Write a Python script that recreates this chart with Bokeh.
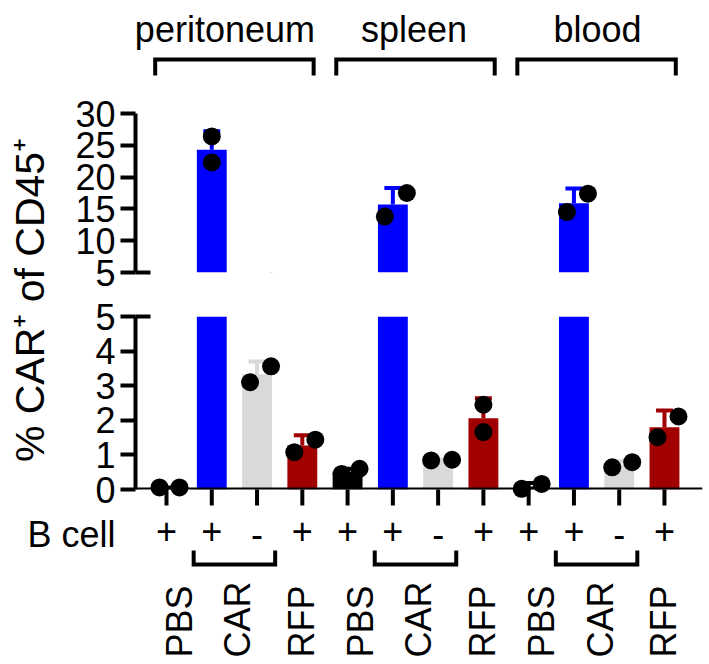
import numpy as np
from bokeh.plotting import figure
from bokeh.layouts import column, row
from bokeh.models import Range1d, FixedTicker, ColumnDataSource, Span
from bokeh.core.properties import value
from bokeh.embed import file_html
from bokeh.resources import INLINE

# ---------------- data ----------------
organs = ["peritoneum", "spleen", "blood"]
treatments = ["PBS", "CAR", "CAR", "RFP"]
b_cell = ["+", "+", "-", "+"]
bar_colors = ["#000000", "#0000FF", "#D9D9D9", "#A00000"]

mean_peritoneum = [0.06, 24.3, 3.33, 1.27]
mean_spleen = [0.52, 15.7, 0.85, 2.06]
mean_blood = [0.09, 15.9, 0.72, 1.80]

sd_peritoneum = [0.00, 2.9, 0.37, 0.30]
sd_spleen = [0.08, 2.6, 0.02, 0.58]
sd_blood = [0.10, 2.3, 0.10, 0.48]

pts1_peritoneum = [0.06, 26.4, 3.10, 1.08]
pts2_peritoneum = [0.06, 22.3, 3.56, 1.44]
pts1_spleen = [0.45, 13.8, 0.84, 2.45]
pts2_spleen = [0.60, 17.5, 0.86, 1.66]
pts1_blood = [0.02, 14.5, 0.64, 1.51]
pts2_blood = [0.16, 17.4, 0.79, 2.11]

top_ticks = [5, 10, 15, 20, 25, 30]
bottom_ticks = [0, 1, 2, 3, 4, 5]
y_label = "% CAR\u207a of CD45\u207a"
row_label = "B cell"

# ---------------- style / layout ----------------
FONT = "Liberation Sans"
FS_TXT = "36px"
XS, XE = 0.315, 12.84
K = 567 / (XE - XS)              # px per category
FS = XS - 135 / K                # full-width figures (frame from page x=0)
FE = FS + 709 / K
PX_BOTTOM = 173 / 5              # px per unit in the lower panel
jit1 = [-7, 0, -7, -8, -6, -8, -7, 0, -7, -7, -7, -7]
jit2 = [13, 0, 14, 13, 12, 14, 14, 0, 13, 14, 13, 14]
BAR_W = 0.66
CAP = 8.5 / K

means = np.array(mean_peritoneum + mean_spleen + mean_blood)
sds = np.array(sd_peritoneum + sd_spleen + sd_blood)
p1 = pts1_peritoneum + pts1_spleen + pts1_blood
p2 = pts2_peritoneum + pts2_spleen + pts2_blood
colors = np.array(bar_colors * len(organs))
pos = np.arange(1, len(means) + 1, dtype=float)
hi = means + sds

pt_src = dict(px=np.concatenate([pos + np.array(jit1) / K, pos + np.array(jit2) / K]),
              py=p1 + p2)


def base(width, height, xr, yr, **kw):
    p = figure(width=width, height=height, x_range=xr, y_range=yr, title=None,
               output_backend="svg", toolbar_location=None, **kw)
    p.xgrid.visible = False
    p.ygrid.visible = False
    p.outline_line_color = None
    p.background_fill_color = "white"
    p.border_fill_color = "white"
    return p


def style_y(ax, ticks):
    ax.ticker = FixedTicker(ticks=ticks)
    ax.axis_line_width = 4
    ax.axis_line_color = "black"
    ax.major_tick_line_width = 4
    ax.major_tick_line_color = "black"
    ax.major_tick_out = 15
    ax.major_tick_in = 0
    ax.minor_tick_line_color = None
    ax.major_label_text_font = FONT
    ax.major_label_text_font_size = FS_TXT
    ax.major_label_text_color = "black"
    ax.major_label_standoff = 5


def draw_panel(p, mask, lift_points):
    src = ColumnDataSource(dict(x=pos[mask], mean=means[mask], hi=hi[mask],
                                cl=pos[mask] - CAP, cr=pos[mask] + CAP,
                                color=colors[mask]))
    p.vbar(x="x", top="mean", bottom=0, width=BAR_W, fill_color="color",
           line_color=None, source=src)
    p.segment(x0="x", y0="mean", x1="x", y1="hi", line_color="color",
              line_width=4, source=src)
    p.segment(x0="cl", y0="hi", x1="cr", y1="hi", line_color="color",
              line_width=4, source=src)
    r = p.scatter(x="px", y="py", size=18, fill_color="black", line_color=None,
                  source=ColumnDataSource(pt_src))
    if lift_points:
        r.level = "overlay"


# top panel (5 - 30)
T = base(649, 204, Range1d(XS, XE), Range1d(top_ticks[0], top_ticks[-1]),
         x_axis_location=None,
         min_border_left=75, min_border_right=7, min_border_top=23, min_border_bottom=22)
style_y(T.yaxis[0], top_ticks)
draw_panel(T, means > top_ticks[0], False)
bt = T.segment(x0=[XS], y0=[top_ticks[0]], x1=[XS + 15 / K], y1=[top_ticks[0]],
               line_width=4, line_color="black")
bt.level = "overlay"

# bottom panel (0 - 5)
B = base(649, 216, Range1d(XS, XE), Range1d(bottom_ticks[0], bottom_ticks[-1]),
         x_axis_location=None,
         min_border_left=75, min_border_right=7, min_border_top=22, min_border_bottom=21)
style_y(B.yaxis[0], bottom_ticks)
draw_panel(B, means > -1, True)
B.add_layout(Span(location=0, dimension="width", line_color="black", line_width=4))
xt = B.segment(x0=pos, y0=np.zeros_like(pos), x1=pos, y1=np.full_like(pos, -16 / PX_BOTTOM),
               line_width=4, line_color="black")
xt.level = "overlay"
bb = B.segment(x0=[XS], y0=[bottom_ticks[-1]], x1=[XS + 15 / K], y1=[bottom_ticks[-1]],
               line_width=4, line_color="black")
bb.level = "overlay"

# y label figure
L = base(60, 420, Range1d(0, 60), Range1d(0, 420), x_axis_location=None,
         y_axis_location=None, min_border=0)
L.text(x=[29.7], y=[210.5], text=[y_label], angle=np.pi / 2, text_align="center",
       text_baseline="middle", text_font=value(FONT), text_font_size="41px",
       text_color="black")

# header with organ names and brackets
H = base(709, 90, Range1d(FS, FE), Range1d(10, 100), x_axis_location=None,
         y_axis_location=None, min_border=0)
gc = [float(np.mean(pos[4 * g:4 * g + 4])) for g in range(len(organs))]
H.text(x=gc, y=[71] * 3, text=organs, x_offset=[-9.5, -1.5, 1], text_align="center",
       text_baseline="alphabetic", text_font=value(FONT), text_font_size=FS_TXT,
       text_color="black")
hx, hy = [], []
for g in range(len(organs)):
    xl = pos[4 * g] - 0.25
    xr = pos[4 * g + 3] + 0.25
    hx.append([xl, xl, xr, xr])
    hy.append([25, 41, 41, 25])
H.multi_line(xs=hx, ys=hy, line_width=4, line_color="black", line_join="miter")

# annotation rows below the axis
A = base(709, 154, Range1d(FS, FE), Range1d(-8, 146), x_axis_location=None,
         y_axis_location=None, min_border=0)
A.text(x=[pos[0]], y=[122], text=[row_label], x_offset=[-51], text_align="right",
       text_baseline="alphabetic", text_font=value(FONT), text_font_size=FS_TXT,
       text_color="black")
signs = b_cell * len(organs)
A.text(x=pos, y=[126 if s == "+" else 123 for s in signs], text=signs, text_align="center",
       text_baseline="alphabetic", text_font=value(FONT), text_font_size=FS_TXT,
       text_color="black")
ax_, ay_ = [], []
for g in range(len(organs)):
    xl = pos[4 * g + 1] - 0.4
    xr = pos[4 * g + 2] + 0.4
    ax_.append([xl, xl, xr, xr])
    ay_.append([106, 92, 92, 106])
A.multi_line(xs=ax_, ys=ay_, line_width=4, line_color="black", line_join="miter")
lab_x, lab_t, lab_off = [], [], []
offs = {"PBS": 13, "CAR": 3.5, "RFP": -1}
for g in range(len(organs)):
    seen = []
    for j, t in enumerate(treatments):
        if t in seen:
            continue
        seen.append(t)
        idx = [4 * g + k for k, tt in enumerate(treatments) if tt == t]
        lab_x.append(float(np.mean(pos[idx])))
        lab_t.append(t)
        lab_off.append(offs[t])
A.text(x=lab_x, y=[-1] * len(lab_x), text=lab_t, x_offset=lab_off, angle=np.pi / 2,
       text_align="left", text_baseline="middle", text_font=value(FONT),
       text_font_size=FS_TXT, text_color="black")

layout = column(H, row(L, column(T, B)), A)
open("out.html", "w").write(file_html(layout, INLINE))
